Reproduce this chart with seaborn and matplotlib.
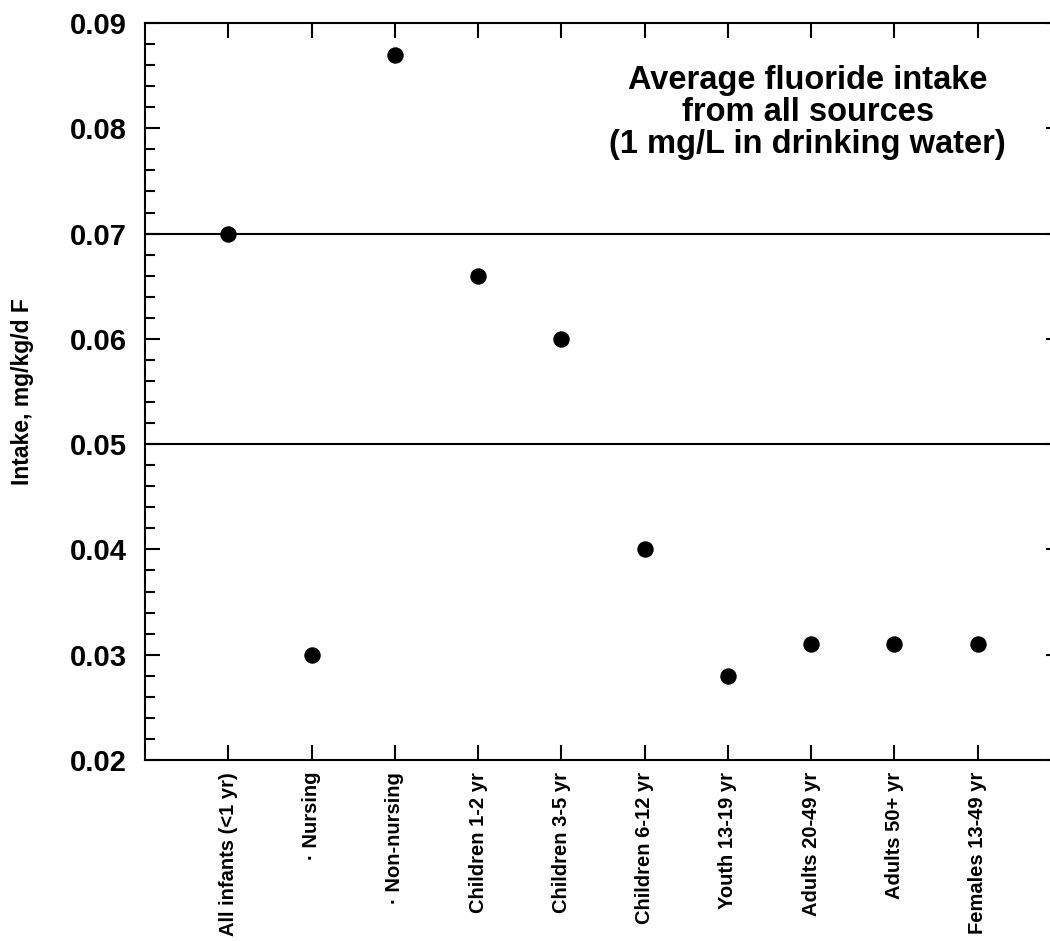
import seaborn as sns
import matplotlib.pyplot as plt
import matplotlib.ticker as mticker
import pandas as pd

groups = ["All infants (<1 yr)", "· Nursing", "· Non-nursing", "Children 1-2 yr",
          "Children 3-5 yr", "Children 6-12 yr", "Youth 13-19 yr",
          "Adults 20-49 yr", "Adults 50+ yr", "Females 13-49 yr"]
intake = [0.070, 0.030, 0.087, 0.066, 0.060, 0.040, 0.028, 0.031, 0.031, 0.031]
ref_lines = [0.07, 0.05]
note = "Average fluoride intake\nfrom all sources\n(1 mg/L in drinking water)"

sns.set_style("ticks")
plt.rcParams['font.family'] = ['Liberation Sans', 'DejaVu Sans']
plt.rcParams['font.weight'] = 'bold'
plt.rcParams['text.color'] = 'black'
plt.rcParams['xtick.color'] = 'black'
plt.rcParams['ytick.color'] = 'black'
plt.rcParams['axes.labelcolor'] = 'black'

df = pd.DataFrame({"group": groups, "intake": intake})

fig = plt.figure(figsize=(10.5, 9.41), dpi=100)
ax = fig.add_axes([145/1050, 1-760/941, 916/1050, (760-23)/941])

for yv in ref_lines:
    ax.axhline(yv, color="black", lw=1.5, zorder=1)

sns.scatterplot(data=df, x="group", y="intake", ax=ax, s=140, color="black",
                edgecolor="black", linewidth=0, zorder=3)

ax.set_xlim(-1, 10)
ax.set_ylim(0.02, 0.09)
ax.yaxis.set_major_locator(mticker.MultipleLocator(0.01))
ax.yaxis.set_minor_locator(mticker.MultipleLocator(0.002))
ax.yaxis.set_major_formatter(mticker.FormatStrFormatter("%.2f"))

ax.set_xticks(range(len(groups)))
ax.set_xticklabels(groups, rotation=90, fontsize=14.5, fontweight="bold")
ax.tick_params(axis="x", which="major", direction="in", length=11, width=1.5,
               top=True, pad=8.5)
ax.tick_params(axis="y", which="major", direction="in", length=11, width=1.5,
               right=True, labelsize=21, pad=13)
ax.tick_params(axis="y", which="minor", direction="in", length=7, width=1.5,
               right=True, left=True)
for lab in ax.get_yticklabels():
    lab.set_fontweight("bold")

for sp in ax.spines.values():
    sp.set_linewidth(1.5)
    sp.set_color("black")

ax.set_xlabel("")
ax.set_ylabel("")
fig.text(23/1050, 1-392/941, "Intake, mg/kg/d F", rotation=90, fontsize=16.5,
         fontweight="bold", ha="center", va="center")

ax.text(6.96, 0.0815, note, ha="center", va="center", fontsize=23.5,
        fontweight="bold", linespacing=1.05)

fig.savefig("out.png", dpi=100)
